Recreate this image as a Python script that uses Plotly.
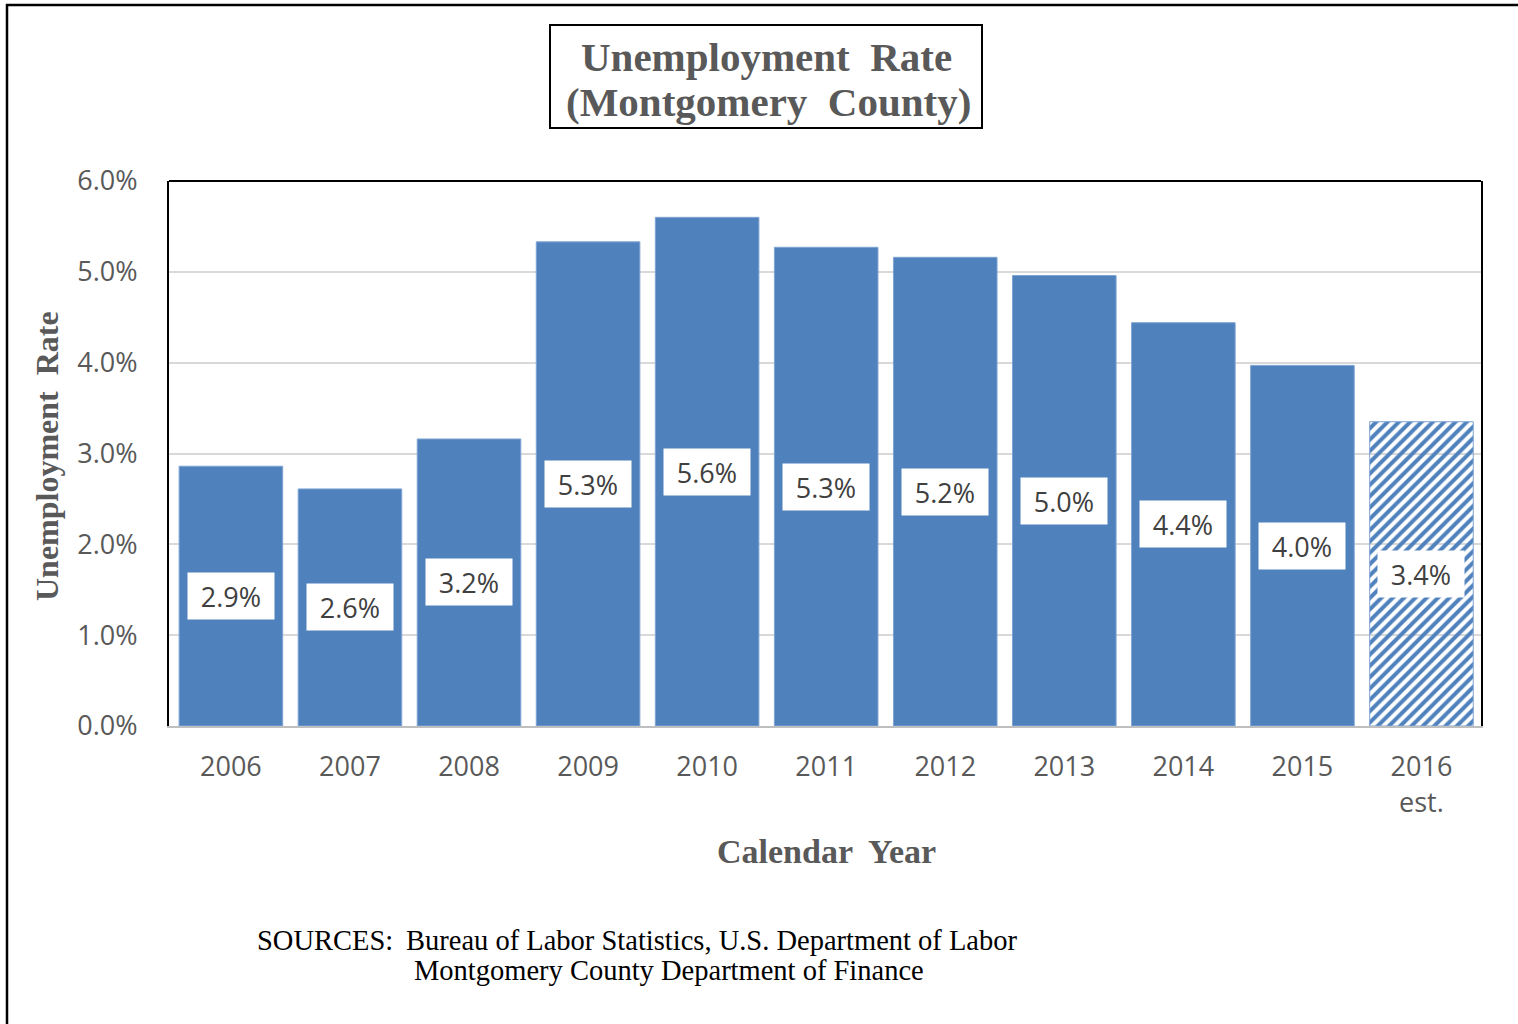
import plotly.graph_objects as go

# Montgomery County unemployment rate by calendar year (percent)
years = ["2006", "2007", "2008", "2009", "2010", "2011", "2012", "2013", "2014", "2015", "2016"]
tick_labels = ["2006", "2007", "2008", "2009", "2010", "2011", "2012", "2013", "2014", "2015", "2016<br>est."]
rates = [2.86, 2.61, 3.16, 5.33, 5.60, 5.27, 5.16, 4.96, 4.44, 3.97, 3.35]
is_estimate = [False] * 10 + [True]

y_ticks = [0, 1, 2, 3, 4, 5, 6]
y_tick_labels = [f"{v:.1f}%" for v in y_ticks]

BLUE = "#4F81BD"
GRAY_TEXT = "#595959"
SANS = "Open Sans"
SERIF = "Liberation Serif"

W, H = 1518, 1024
L, R, T, B = 169, 37, 181, 298
PW, PH = W - L - R, H - T - B


def px_x(px):
    return (px - L) / PW


def px_y(py):
    return (H - B - py) / PH


fig = go.Figure()

# estimated year: white bar with blue diagonal hatching
n = len(years)
fig.add_trace(go.Bar(
    x=years,
    y=rates,
    marker=dict(
        color=[BLUE] * n,
        line=dict(color="#7FA4D4", width=1),
        pattern=dict(
            shape=["/" if e else "" for e in is_estimate],
            fillmode="replace",
            fgcolor=[BLUE] * n,
            bgcolor=["white"] * n,
            fgopacity=1,
            size=8,
            solidity=0.5,
        ),
    ),
    hoverinfo="x+y",
))

# value labels in white boxes, centred in each bar (category index positions)
for i, v in enumerate(rates):
    fig.add_annotation(
        x=i, y=v / 2, xref="x", yref="y",
        text=f"{v:.1f}%", showarrow=False,
        bgcolor="white", width=80, height=40, borderpad=3,
        font=dict(family=SANS, size=27, color="#404040"),
    )

# chart title inside a framed box
fig.add_shape(type="rect", xref="paper", yref="paper",
              x0=px_x(550), x1=px_x(982), y0=px_y(128), y1=px_y(25),
              line=dict(color="black", width=2), fillcolor="white")
title_font = dict(family=SERIF, size=41, color=GRAY_TEXT)
fig.add_annotation(
    x=px_x(766), y=px_y(57), xref="paper", yref="paper",
    text="<b>Unemployment  Rate</b>",
    showarrow=False, xanchor="center", yanchor="middle", font=title_font,
)
fig.add_annotation(
    x=px_x(768), y=px_y(102), xref="paper", yref="paper",
    text="<b>(Montgomery  County)</b>",
    showarrow=False, xanchor="center", yanchor="middle", font=title_font,
)

# axis titles
fig.add_annotation(
    x=px_x(47), y=px_y(456), xref="paper", yref="paper",
    text="<b>Unemployment  Rate</b>", textangle=-90, showarrow=False,
    xanchor="center", yanchor="middle",
    font=dict(family=SERIF, size=32, color=GRAY_TEXT),
)
fig.add_annotation(
    x=px_x(827), y=px_y(851), xref="paper", yref="paper",
    text="<b>Calendar  Year</b>", showarrow=False,
    xanchor="center", yanchor="middle",
    font=dict(family=SERIF, size=34, color=GRAY_TEXT),
)

# sources note
src_font = dict(family=SERIF, size=28.5, color="black")
fig.add_annotation(x=px_x(255), y=px_y(940), xref="paper", yref="paper",
                   text="SOURCES:", showarrow=False, xanchor="left",
                   yanchor="middle", font=src_font)
fig.add_annotation(x=px_x(404), y=px_y(940), xref="paper", yref="paper",
                   text="Bureau of Labor Statistics, U.S. Department of Labor",
                   showarrow=False, xanchor="left", yanchor="middle", font=src_font)
fig.add_annotation(x=px_x(412), y=px_y(970), xref="paper", yref="paper",
                   text="Montgomery County Department of Finance",
                   showarrow=False, xanchor="left", yanchor="middle", font=src_font)

# top edge of the plot frame
fig.add_shape(type="line", xref="paper", yref="paper",
              x0=0, x1=1, y0=1, y1=1, line=dict(color="black", width=2))

# outer border around the whole figure
fig.add_shape(type="rect", xref="paper", yref="paper",
              x0=px_x(7), x1=px_x(1540), y0=px_y(1040), y1=px_y(5),
              line=dict(color="black", width=2.5))

fig.update_layout(
    width=W, height=H, autosize=False,
    margin=dict(l=L, r=R, t=T, b=B, pad=0),
    paper_bgcolor="white", plot_bgcolor="white",
    bargap=0.13, showlegend=False,
    xaxis=dict(
        type="category", range=[-0.52, n - 0.5],
        tickmode="array", tickvals=years, ticktext=tick_labels,
        showgrid=False, showline=True, linecolor="#BFBFBF", linewidth=2,
        ticks="", ticklabelstandoff=16,
        tickfont=dict(family=SANS, size=27, color=GRAY_TEXT),
    ),
    yaxis=dict(
        range=[0, 6], tickmode="array", tickvals=y_ticks, ticktext=y_tick_labels,
        showgrid=True, gridcolor="#D9D9D9", gridwidth=2,
        showline=True, linecolor="black", linewidth=2, mirror=True,
        zeroline=False, ticks="", ticklabelstandoff=24,
        tickfont=dict(family=SANS, size=27, color=GRAY_TEXT),
    ),
)

fig.write_html("out.html")
